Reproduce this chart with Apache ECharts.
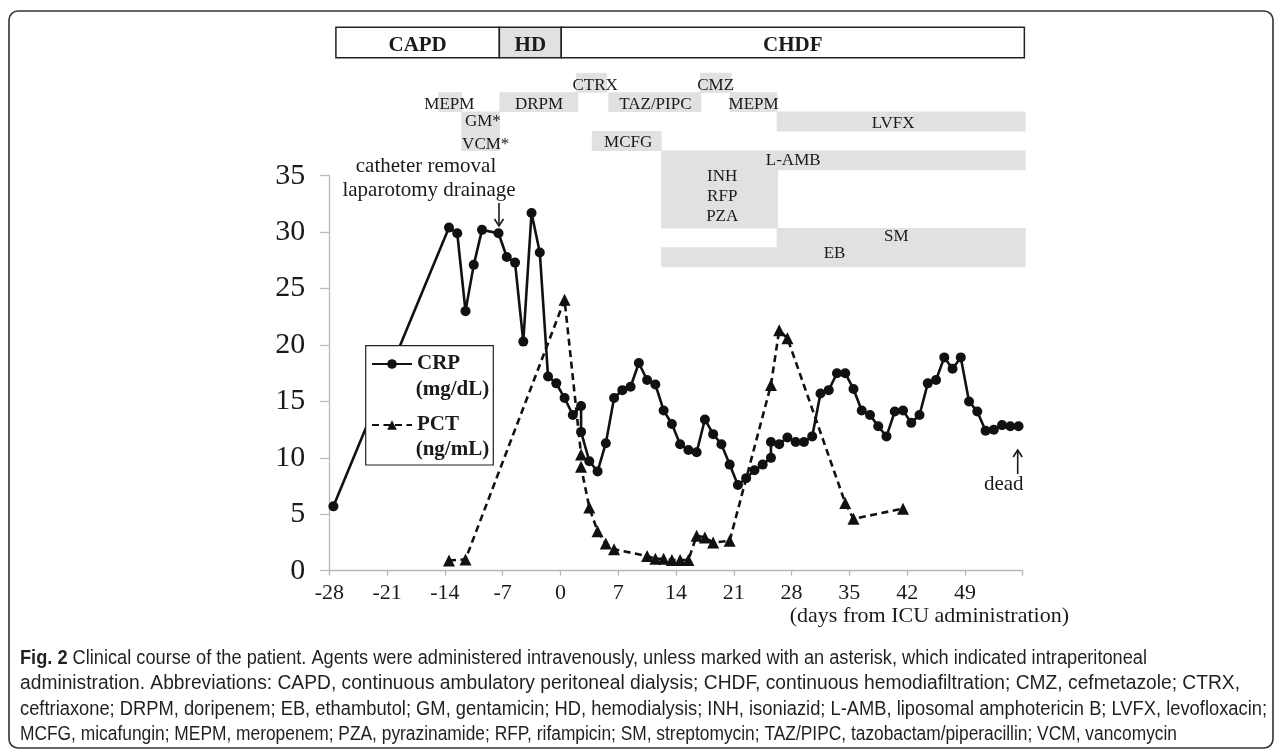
<!DOCTYPE html>
<html><head><meta charset="utf-8">
<script src="https://cdn.jsdelivr.net/npm/echarts@6/dist/echarts.min.js"></script>
<style>html,body{margin:0;padding:0;background:#fff}#c{width:1281px;height:755px}</style>
</head><body><div id="c"></div><script>
// ---------- data ----------
const xTickValues = [-28, -21, -14, -7, 0, 7, 14, 21, 28, 35, 42, 49, 56];
const yTickValues = [0, 5, 10, 15, 20, 25, 30, 35];

const crpDay = [-27.5,-13.5,-12.5,-11.5,-10.5,-9.5,-7.5,-6.5,-5.5,-4.5,-3.5,-2.5,-1.5,-0.5,0.5,1.5,2.5,2.5,3.5,4.5,5.5,6.5,7.5,8.5,9.5,10.5,11.5,12.5,13.5,14.5,15.5,16.5,17.5,18.5,19.5,20.5,21.5,22.5,23.5,24.5,25.5,25.5,26.5,27.5,28.5,29.5,30.5,31.5,32.5,33.5,34.5,35.5,36.5,37.5,38.5,39.5,40.5,41.5,42.5,43.5,44.5,45.5,46.5,47.5,48.5,49.5,50.5,51.5,52.5,53.5,54.5,55.5];
const crpValue = [5.7,30.4,29.9,23.0,27.1,30.2,29.9,27.8,27.3,20.3,31.7,28.2,17.2,16.6,15.3,13.8,14.6,12.3,9.7,8.8,11.3,15.3,16.0,16.3,18.4,16.9,16.5,14.2,13.0,11.2,10.7,10.5,13.4,12.1,11.2,9.4,7.6,8.2,8.9,9.4,10.0,11.4,11.2,11.8,11.4,11.4,11.9,15.7,16.0,17.5,17.5,16.1,14.2,13.8,12.8,11.9,14.1,14.2,13.1,13.8,16.6,16.9,18.9,17.9,18.9,15.0,14.1,12.4,12.5,12.9,12.8,12.8];

const pctDay = [-13.5,-11.5,0.5,2.5,2.5,3.5,4.5,5.5,6.5,10.5,11.5,12.5,13.5,14.5,15.5,16.5,17.5,18.5,20.5,25.5,26.5,27.5,34.5,35.5,41.5];
const pctValue = [0.9,1.0,24.0,10.3,9.2,5.6,3.5,2.4,1.9,1.3,1.05,1.05,0.95,0.95,0.95,3.1,2.95,2.5,2.65,16.45,21.3,20.6,6.0,4.6,5.5];

const phaseNames = ['CAPD', 'HD', 'CHDF'];
const phaseStart = [-27.2, -7.4, 0.1];
const phaseEnd = [-7.4, 0.1, 56.2];

const drugNames = ['CTRX','CMZ','MEPM','DRPM','TAZ/PIPC','MEPM','GM*','LVFX','VCM*','MCFG','L-AMB','INH','RFP','PZA','SM','EB'];
const drugStart = [1.9, 16.9, -14.8, -7.4, 5.8, 20.5, -12.0, 26.2, -12.0, 3.8, 12.2, 12.2, 12.2, 12.2, 26.2, 12.2];
const drugEnd   = [5.6, 20.7, -12.0, 2.1, 17.0, 26.2, -7.4, 56.3, -7.4, 12.2, 56.3, 26.3, 26.3, 26.3, 56.3, 56.3];
const drugRow   = [0, 0, 1, 1, 1, 1, 2, 2, 3, 3, 4, 5, 6, 7, 8, 9];
const drugLabelDay = [4.2, 18.8, -13.45, -2.6, 11.5, 23.4, -9.4, 40.3, -9.05, 8.2, 28.2, 19.6, 19.6, 19.6, 40.7, 33.2];
const drugLabelRow = [0.63, 0.63, 1.61, 1.61, 1.61, 1.61, 2.53, 2.61, 3.69, 3.61, 4.5, 5.36, 6.36, 7.42, 8.42, 9.31];

const captionLines = [
  ['Fig. 2', ' Clinical course of the patient. Agents were administered intravenously, unless marked with an asterisk, which indicated intraperitoneal'],
  ['', 'administration. Abbreviations: CAPD, continuous ambulatory peritoneal dialysis; CHDF, continuous hemodiafiltration; CMZ, cefmetazole; CTRX,'],
  ['', 'ceftriaxone; DRPM, doripenem; EB, ethambutol; GM, gentamicin; HD, hemodialysis; INH, isoniazid; L-AMB, liposomal amphotericin B; LVFX, levofloxacin;'],
  ['', 'MCFG, micafungin; MEPM, meropenem; PZA, pyrazinamide; RFP, rifampicin; SM, streptomycin; TAZ/PIPC, tazobactam/piperacillin; VCM, vancomycin']
];
const captionRight = [1147, 1240, 1267, 1177];

// ---------- layout ----------
const SERIF = '"Liberation Serif", "Times New Roman", serif';
const INK = '#1a1a1a';
const AXIS_GRAY = '#b8b8b8';
const FILL_GRAY = '#e1e1e1';
const G_LEFT = 329.3, G_WIDTH = 693.4;

const chart = echarts.init(document.getElementById('c'), null, {renderer: 'canvas'});

const ctx = document.createElement('canvas').getContext('2d');
function tw(str, font) { ctx.font = font; return ctx.measureText(str).width; }
const CAP_SIZE = 20;
const CAP_FAMILY = '"Liberation Sans", Arial, sans-serif';
const CAP_FONT = CAP_SIZE + 'px ' + CAP_FAMILY;
const CAP_BOLD = 'bold ' + CAP_FONT;
const captionEls = captionLines.map(function (ln, i) {
  const w = (ln[0] ? tw(ln[0], CAP_BOLD) : 0) + tw(ln[1], CAP_FONT);
  const s = (captionRight[i] - 20) / w;
  return {
    type: 'text', x: 20, y: 658 + i * 25.6, scaleX: s, scaleY: 1,
    style: {
      text: (ln[0] ? '{b|' + ln[0] + '}' : '') + '{r|' + ln[1] + '}',
      verticalAlign: 'middle', align: 'left', fill: '#231f20',
      rich: {
        b: {fontFamily: CAP_FAMILY, fontWeight: 'bold', fontSize: CAP_SIZE, fill: '#231f20'},
        r: {fontFamily: CAP_FAMILY, fontSize: CAP_SIZE, fill: '#231f20'}
      }
    }
  };
});

function arrow(x, yTail, yTip) {
  const d = yTip > yTail ? -1 : 1;
  return [
    {type: 'line', shape: {x1: x, y1: yTail, x2: x, y2: yTip}, style: {stroke: INK, lineWidth: 1.6}},
    {type: 'polyline', shape: {points: [[x - 4.5, yTip + d * 7], [x, yTip], [x + 4.5, yTip + d * 7]]}, style: {stroke: INK, lineWidth: 1.6, fill: null}}
  ];
}

const option = {
  animation: false,
  backgroundColor: '#fff',
  grid: [
    {left: G_LEFT, width: G_WIDTH, top: 175.7, height: 395},
    {left: G_LEFT, width: G_WIDTH, top: 27.3, height: 239.4}
  ],
  xAxis: [
    {
      type: 'value', gridIndex: 0, min: -28, max: 56, interval: 7,
      axisLine: {show: true, onZero: false, lineStyle: {color: AXIS_GRAY, width: 1.3}},
      axisTick: {show: true, length: 5, lineStyle: {color: AXIS_GRAY, width: 1.3}},
      splitLine: {show: false},
      axisLabel: {
        fontFamily: SERIF, fontSize: 22, color: INK, margin: 12,
        formatter: function (v) { return xTickValues.indexOf(v) >= 0 && v !== 56 ? String(v) : ''; }
      }
    },
    {type: 'value', gridIndex: 1, min: -28, max: 56, show: false}
  ],
  yAxis: [
    {
      type: 'value', gridIndex: 0, min: 0, max: 35, interval: 5,
      axisLine: {show: true, onZero: false, lineStyle: {color: AXIS_GRAY, width: 1.3}},
      axisTick: {show: true, length: 9, lineStyle: {color: AXIS_GRAY, width: 1.3}},
      splitLine: {show: false},
      axisLabel: {
        fontFamily: SERIF, fontSize: 30, color: INK, margin: 24,
        formatter: function (v) { return yTickValues.indexOf(v) >= 0 ? String(v) : ''; }
      }
    },
    {type: 'value', gridIndex: 1, min: -2.35, max: 10, inverse: true, show: false}
  ],
  legend: {
    data: ['CRP', 'PCT'], orient: 'vertical', left: 371, top: 353, padding: 0,
    itemWidth: 40, itemHeight: 12, itemGap: 39, selectedMode: false, z: 10,
    textStyle: {fontFamily: SERIF, fontWeight: 'bold', fontSize: 21, color: INK, lineHeight: 22}
  },
  series: [
    {
      name: 'phases', type: 'custom', xAxisIndex: 1, yAxisIndex: 1, silent: true, z: 1,
      data: phaseNames.map(function (n, i) { return [phaseStart[i], phaseEnd[i], -2.35, -0.78]; }),
      renderItem: function (params, api) {
        const p0 = api.coord([api.value(0), api.value(2)]);
        const p1 = api.coord([api.value(1), api.value(3)]);
        const name = phaseNames[params.dataIndex];
        return {type: 'group', children: [
          {type: 'rect', shape: {x: p0[0], y: p0[1], width: p1[0] - p0[0], height: p1[1] - p0[1]},
           style: {fill: name === 'HD' ? FILL_GRAY : '#fff', stroke: '#222', lineWidth: 1.5}},
          {type: 'text', style: {text: name, x: (p0[0] + p1[0]) / 2, y: (p0[1] + p1[1]) / 2 + 3,
           align: 'center', verticalAlign: 'middle', font: 'bold 21px ' + SERIF, fill: INK}}
        ]};
      }
    },
    {
      name: 'drugs', type: 'custom', xAxisIndex: 1, yAxisIndex: 1, silent: true, z: 1,
      data: drugNames.map(function (n, i) {
        return [drugStart[i], drugEnd[i], drugRow[i], drugRow[i] + 1, drugLabelDay[i], drugLabelRow[i]];
      }),
      renderItem: function (params, api) {
        const p0 = api.coord([api.value(0), api.value(2)]);
        const p1 = api.coord([api.value(1), api.value(3)]);
        const lp = api.coord([api.value(4), api.value(5)]);
        return {type: 'group', children: [
          {type: 'rect', shape: {x: p0[0], y: p0[1], width: p1[0] - p0[0] + 0.5, height: p1[1] - p0[1] + 0.5},
           style: {fill: FILL_GRAY}},
          {type: 'text', z2: 5, style: {text: drugNames[params.dataIndex], x: lp[0], y: lp[1],
           align: 'center', verticalAlign: 'middle', font: '17px ' + SERIF, fill: INK}}
        ]};
      }
    },
    {
      name: 'CRP', type: 'line', xAxisIndex: 0, yAxisIndex: 0,
      data: crpDay.map(function (d, i) { return [d, crpValue[i]]; }),
      symbol: 'circle', symbolSize: 10, showAllSymbol: true,
      itemStyle: {color: '#111'},
      lineStyle: {color: '#111', width: 2.6},
      z: 3
    },
    {
      name: 'PCT', type: 'line', xAxisIndex: 0, yAxisIndex: 0,
      data: pctDay.map(function (d, i) { return [d, pctValue[i]]; }),
      symbol: 'triangle', symbolSize: 12, showAllSymbol: true,
      itemStyle: {color: '#111'},
      lineStyle: {color: '#111', width: 2.6, type: [7, 4.5]},
      z: 3
    }
  ],
  graphic: {elements: [
    {type: 'rect', z: -1, shape: {x: 9, y: 11, width: 1264, height: 737, r: 9},
     style: {fill: null, stroke: '#333', lineWidth: 1.6}},
    {type: 'rect', z: 5, shape: {x: 365.7, y: 345.7, width: 127.6, height: 119.3},
     style: {fill: '#fff', stroke: '#222', lineWidth: 1.2}},
    {type: 'text', z: 11, x: 415.7, y: 390, style: {text: '(mg/dL)', font: 'bold 21px ' + SERIF, fill: INK, verticalAlign: 'middle'}},
    {type: 'text', z: 11, x: 415.7, y: 450, style: {text: '(ng/mL)', font: 'bold 21px ' + SERIF, fill: INK, verticalAlign: 'middle'}},
    {type: 'text', z: 6, x: 426, y: 166.7, style: {text: 'catheter removal', font: '21px ' + SERIF, fill: INK, align: 'center', verticalAlign: 'middle'}},
    {type: 'text', z: 6, x: 429, y: 190.5, style: {text: 'laparotomy drainage', font: '21px ' + SERIF, fill: INK, align: 'center', verticalAlign: 'middle'}},
    {type: 'text', z: 6, x: 1003.7, y: 484.3, style: {text: 'dead', font: '21px ' + SERIF, fill: INK, align: 'center', verticalAlign: 'middle'}},
    {type: 'text', z: 6, x: 1069, y: 616, style: {text: '(days from ICU administration)', font: '22px ' + SERIF, fill: INK, align: 'right', verticalAlign: 'middle'}}
  ].concat(arrow(499, 203, 226), arrow(1017.7, 474, 450)).concat(captionEls)}
};
chart.setOption(option);
</script></body></html>
